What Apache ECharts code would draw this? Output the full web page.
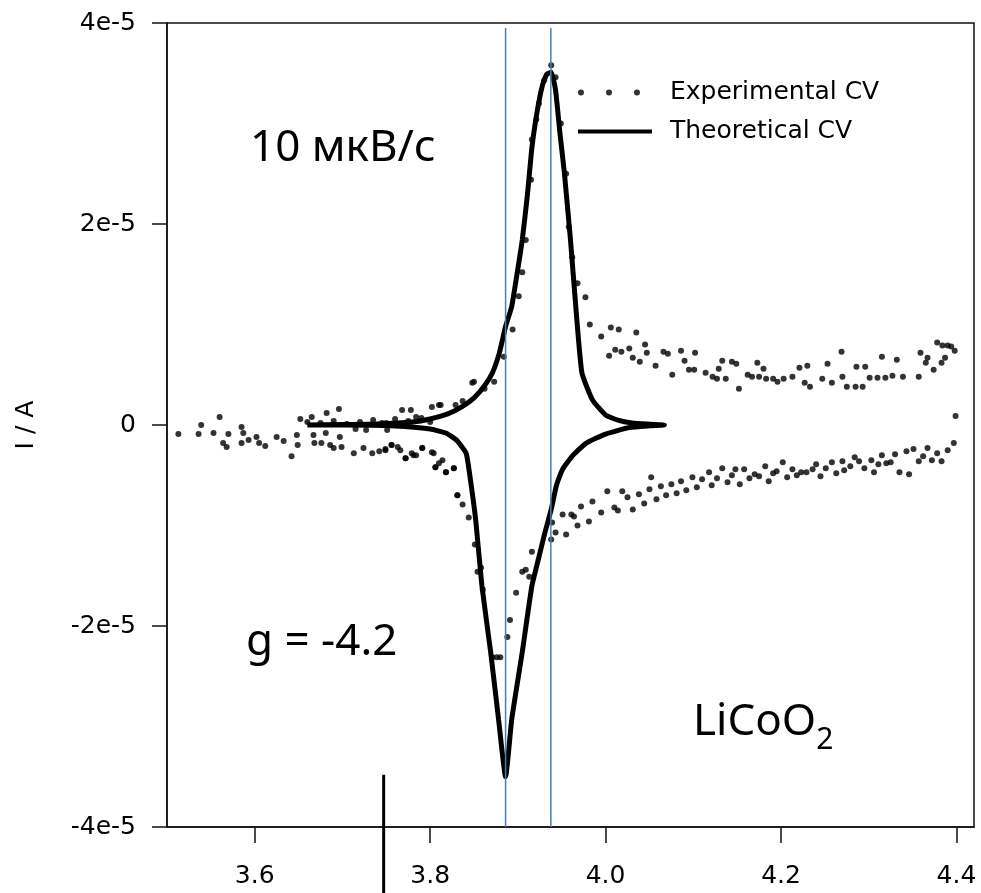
<!DOCTYPE html>
<html>
<head>
<meta charset="utf-8">
<title>LiCoO2 CV</title>
<script src="https://cdn.jsdelivr.net/npm/echarts@6/dist/echarts.min.js"></script>
<style>
  html, body { margin: 0; padding: 0; background: #fff; }
  #chart { width: 981px; height: 893px; }
</style>
</head>
<body>
<div id="chart"></div>
<script>
// Axis ticks
const xTicks = [3.6, 3.8, 4.0, 4.2, 4.4];
const yTicks = [-4e-5, -2e-5, 0, 2e-5, 4e-5];
const yTickLabels = ['-4e-5', '-2e-5', '0', '2e-5', '4e-5'];

// Theoretical CV: closed loop, anodic sweep then cathodic sweep (E in V, I in µA)
const theoE = [
  3.660, 3.700, 3.740, 3.780, 3.800, 3.820, 3.836, 3.850, 3.862, 3.871, 3.879, 3.886,
  3.893, 3.899, 3.905, 3.911, 3.916, 3.922, 3.928, 3.933, 3.938, 3.943, 3.948, 3.953,
  3.960, 3.966, 3.973, 3.985, 4.000, 4.015, 4.030, 4.050, 4.067,
  4.050, 4.027, 4.000, 3.978, 3.963, 3.951, 3.944, 3.938, 3.930, 3.923, 3.916, 3.905,
  3.893, 3.886, 3.878, 3.869, 3.859, 3.852, 3.846, 3.841, 3.830, 3.818,
  3.800, 3.760, 3.700, 3.660
];
const theoI = [
  0.0, 0.05, 0.1, 0.3, 0.6, 1.1, 1.8, 2.7, 3.9, 5.2, 7.2, 9.8,
  11.8, 15.0, 18.4, 23.0, 27.6, 31.2, 33.8, 34.9, 35.1, 33.3, 29.0, 25.1,
  18.4, 11.8, 5.2, 2.5, 1.0, 0.45, 0.2, 0.08, 0.0,
  -0.08, -0.25, -0.9, -1.8, -3.0, -4.4, -6.0, -8.4, -11.0, -13.5, -16.0, -22.6,
  -29.3, -35.0, -29.3, -22.6, -16.0, -9.5, -5.5, -2.8, -1.5, -0.8,
  -0.4, -0.1, 0.0, 0.0
];

// Experimental CV points (E in V, I in µA)
const expE = [
  3.513, 3.536, 3.539, 3.553, 3.560, 3.564, 3.568, 3.570, 3.585, 3.587, 3.585, 3.593,
  3.602, 3.605, 3.612, 3.625, 3.633, 3.642, 3.648, 3.649, 3.652, 3.665, 3.667, 3.668,
  3.676, 3.681, 3.682, 3.686, 3.690, 3.696, 3.697, 3.699, 3.713, 3.715, 3.724, 3.727,
  3.734, 3.742, 3.749, 3.751, 3.756, 3.766, 3.768, 3.772, 3.778, 3.781, 3.784, 3.791,
  3.802, 3.802, 3.806, 3.810, 3.814, 3.818, 3.827, 3.829, 3.831, 3.848,
  3.660, 3.675, 3.690, 3.705, 3.720, 3.735, 3.745, 3.760, 3.775, 3.790, 3.800,
  3.750, 3.812, 3.837, 3.850, 3.862, 3.873, 3.884, 3.894, 3.901, 3.905, 3.909, 3.915,
  3.916, 3.921, 3.924, 3.930, 3.938, 3.943, 3.949, 3.955, 3.958, 3.962, 3.968, 3.977,
  3.982, 3.995, 4.006, 4.015, 4.004, 4.011, 4.018, 4.027, 4.031, 4.035, 4.039, 4.045,
  4.047, 4.057, 4.066, 4.071, 4.076, 4.086, 4.090, 4.095, 4.101, 4.102, 4.114, 4.122,
  4.127, 4.129, 4.133, 4.137, 4.144, 4.149, 4.152, 4.162, 4.167, 4.173, 4.175, 4.180,
  4.183, 4.191, 4.196, 4.203, 4.213, 4.221, 4.227, 4.230, 4.233, 4.247, 4.253, 4.258,
  4.269, 4.270, 4.275, 4.285, 4.286, 4.293, 4.296, 4.301, 4.310, 4.315, 4.319, 4.327,
  4.332, 4.339, 4.357, 4.359, 4.365, 4.367, 4.374, 4.378, 4.383, 4.387, 4.384, 4.390,
  4.394, 4.398, 4.399, 4.397,
  4.383, 4.378, 4.372, 4.367, 4.357, 4.351, 4.343, 4.346, 4.335, 4.325, 4.315, 4.306,
  4.303, 4.295, 4.289, 4.270, 4.272, 4.258, 4.240, 4.236, 4.229, 4.223, 4.213, 4.202,
  4.195, 4.182, 4.175, 4.158, 4.148, 4.133, 4.118, 4.099, 4.052,
  4.390, 4.362, 4.330, 4.320, 4.311, 4.284, 4.279, 4.263, 4.251, 4.245, 4.218, 4.207,
  4.191, 4.186, 4.170, 4.164, 4.153, 4.144, 4.139, 4.127, 4.121, 4.110, 4.104, 4.092,
  4.086, 4.081, 4.075, 4.069, 4.063, 4.058, 4.050, 4.044, 4.038, 4.031, 4.025,
  3.749, 3.756, 3.763, 3.772, 3.779, 3.784, 3.791, 3.804, 3.806, 3.810, 3.818, 3.827,
  3.831, 3.837, 3.844, 3.851, 3.854, 3.858, 3.860, 3.871, 3.876, 3.880, 3.888, 3.891,
  3.898, 3.905, 3.909, 3.913, 3.916, 3.938, 3.939, 3.943, 3.951, 3.955, 3.961, 3.964,
  3.968, 3.972, 3.981, 3.985, 3.995, 4.002, 4.010, 4.014, 4.019
];
const expI = [
  -0.9, -0.9, 0.0, -0.8, 0.8, -1.8, -2.2, -0.9, -0.2, -0.8, -1.8, -1.5,
  -1.2, -1.8, -2.1, -1.2, -1.6, -3.1, -1.0, -2.0, 0.6, 0.8, -1.0, -1.8,
  -1.8, -0.8, 1.2, -2.0, -2.3, 1.6, -1.2, -2.2, -2.8, -0.4, -2.3, -0.5,
  -2.8, -2.6, -2.4, -0.5, -2.0, -2.5, 1.5, -3.3, 1.5, -3.0, 0.8, -2.3,
  1.8, -2.7, -4.2, 2.0, -3.5, -4.7, -4.3, 2.0, -7.0, 4.2,
  0.3, 0.2, 0.4, 0.1, 0.3, 0.5, 0.2, 0.6, 0.4, 0.7, 0.3,
  0.2, 2.0, 2.4, 4.3, 3.6, 4.3, 6.8, 9.5, 12.8, 15.2, 18.4, 24.4,
  28.4, 30.4, 32.0, 34.3, 35.8, 34.6, 30.0, 25.0, 19.7, 16.7, 14.1, 12.7,
  10.0, 8.8, 9.7, 9.5, 6.9, 7.5, 7.3, 7.6, 6.7, 9.2, 6.3, 8.0,
  7.2, 5.9, 7.3, 7.1, 5.0, 7.4, 6.4, 5.5, 5.5, 7.2, 5.2, 4.8,
  4.6, 5.6, 6.4, 4.6, 6.3, 6.1, 3.6, 5.0, 4.8, 6.2, 4.8, 5.6,
  4.6, 4.6, 4.3, 4.6, 4.8, 5.7, 4.2, 5.9, 3.8, 4.6, 6.1, 4.2,
  7.3, 4.8, 3.8, 3.8, 5.8, 3.8, 5.8, 4.7, 4.7, 6.8, 4.7, 4.9,
  6.5, 4.8, 4.8, 7.2, 6.2, 6.7, 5.5, 8.2, 6.2, 6.7, 7.9, 7.9,
  7.8, 7.4, 0.9, -1.8,
  -3.6, -2.8, -3.5, -2.3, -3.6, -2.4, -2.6, -4.9, -4.7, -3.7, -3.0, -4.7,
  -3.5, -4.3, -3.6, -3.6, -4.5, -3.7, -3.9, -4.4, -4.7, -4.7, -4.4, -3.7,
  -4.6, -4.1, -5.1, -4.4, -4.4, -4.3, -4.7, -5.2, -5.2,
  -2.5, -3.1, -2.9, -3.8, -3.9, -3.2, -4.1, -4.8, -4.3, -5.1, -5.0, -5.2,
  -4.8, -5.6, -4.9, -5.3, -5.9, -5.0, -5.7, -5.3, -6.0, -5.4, -6.2, -6.5,
  -5.6, -6.8, -5.9, -7.0, -6.1, -7.4, -6.4, -7.8, -6.9, -8.4, -7.2,
  -2.5, -2.0, -2.2, -3.3, -2.8, -3.0, -2.3, -2.8, -4.2, -3.8, -4.7, -4.3,
  -7.0, -7.9, -9.2, -11.9, -14.6, -14.2, -16.4, -23.1, -23.1, -23.1, -21.1, -19.4,
  -16.7, -14.6, -14.4, -15.1, -12.6, -11.4, -9.7, -10.7, -8.9, -10.9, -8.9, -9.1,
  -10.0, -8.1, -9.6, -7.6, -8.7, -6.6, -8.2, -8.5, -6.6
];

// Peak potentials (vertical guides) and the marker stroke near the bottom axis
const peakPotentials = [3.886, 3.9376];
const markerPotential = 3.747;
const markerCurrentRange = [-3.48e-5, -4.66e-5];

const MICRO = 1e-6;
const theoData = theoE.map((e, i) => [e, theoI[i] * MICRO]);
const expData = expE.map((e, i) => [e, expI[i] * MICRO]);

const axisFont = 'DejaVu Sans';
const dotsIcon = 'path://M0,3a3,3 0 1,0 6,0a3,3 0 1,0 -6,0M28,3a3,3 0 1,0 6,0a3,3 0 1,0 -6,0M56,3a3,3 0 1,0 6,0a3,3 0 1,0 -6,0M74,3';
const barIcon = 'path://M0,1L74,1L74,5L0,5Z';

const guideSeries = peakPotentials.map((e) => ({
  type: 'line',
  data: [[e, -4e-5], [e, 3.95e-5]],
  showSymbol: false,
  silent: true,
  lineStyle: { color: '#4a7ebb', width: 1.5 },
  z: 5
}));

const chart = echarts.init(document.getElementById('chart'), null, { renderer: 'canvas' });
chart.setOption({
  animation: false,
  backgroundColor: '#ffffff',
  grid: {
    left: 167, right: 7, top: 23, bottom: 66,
    show: true, borderColor: '#111', borderWidth: 1.5
  },
  legend: {
    orient: 'vertical',
    left: 578, top: 80,
    padding: 0,
    itemWidth: 74, itemHeight: 6, itemGap: 14,
    textStyle: { fontFamily: axisFont, fontSize: 25, color: '#000', padding: [0, 0, 0, 13] },
    data: [
      { name: 'Experimental CV', icon: dotsIcon },
      { name: 'Theoretical CV', icon: barIcon }
    ]
  },
  xAxis: {
    type: 'value',
    min: 3.5, max: 4.42,
    axisLine: { show: true, onZero: false, lineStyle: { color: '#111', width: 1.5 } },
    axisTick: { show: true, inside: false, length: 16, customValues: xTicks, lineStyle: { color: '#111', width: 1.5 } },
    axisLabel: {
      customValues: xTicks, margin: 37,
      fontFamily: axisFont, fontSize: 25, color: '#000',
      formatter: (v) => v.toFixed(1)
    },
    splitLine: { show: false }
  },
  yAxis: {
    type: 'value',
    min: -4e-5, max: 4e-5, interval: 2e-5,
    name: 'I / A', nameLocation: 'middle', nameGap: 128, nameRotate: 90,
    nameTextStyle: { fontFamily: axisFont, fontSize: 25, color: '#000' },
    axisLine: { show: true, onZero: false, lineStyle: { color: '#111', width: 1.5 } },
    axisTick: { show: true, inside: false, length: 15, lineStyle: { color: '#111', width: 1.5 } },
    axisLabel: {
      margin: 31, fontFamily: axisFont, fontSize: 25, color: '#000',
      formatter: (v) => {
        const idx = yTicks.findIndex((t) => Math.abs(t - v) < 1e-9);
        return idx >= 0 ? yTickLabels[idx] : '';
      }
    },
    splitLine: { show: false }
  },
  series: [
    {
      name: 'Experimental CV',
      type: 'scatter',
      data: expData,
      symbol: 'circle',
      symbolSize: 6,
      itemStyle: { color: '#000' },
      z: 2
    },
    {
      name: 'Theoretical CV',
      type: 'line',
      data: theoData,
      showSymbol: false,
      smooth: 0.15,
      lineStyle: { color: '#000', width: 5 },
      itemStyle: { color: '#000' },
      z: 3
    },
    ...guideSeries,
    {
      type: 'line',
      data: [[markerPotential, markerCurrentRange[0]], [markerPotential, markerCurrentRange[1]]],
      showSymbol: false,
      silent: true,
      clip: false,
      lineStyle: { color: '#000', width: 3 },
      z: 6
    }
  ],
  graphic: [
    {
      type: 'text', x: 250, y: 148,
      style: { text: '10 мкВ/с', fontFamily: 'Noto Sans', fontSize: 44, fill: '#000', verticalAlign: 'middle' }
    },
    {
      type: 'text', x: 246, y: 642,
      style: { text: 'g = -4.2', fontFamily: 'Noto Sans', fontSize: 44, fill: '#000', verticalAlign: 'middle' }
    },
    {
      type: 'text', x: 693, y: 722,
      style: {
        text: '{a|LiCoO}{b|2}',
        verticalAlign: 'middle',
        rich: {
          a: { fontFamily: 'Noto Sans', fontSize: 44, lineHeight: 44, fill: '#000' },
          b: { fontFamily: 'Noto Sans', fontSize: 30, lineHeight: 66, verticalAlign: 'bottom', fill: '#000' }
        }
      }
    }
  ]
});
</script>
</body>
</html>
